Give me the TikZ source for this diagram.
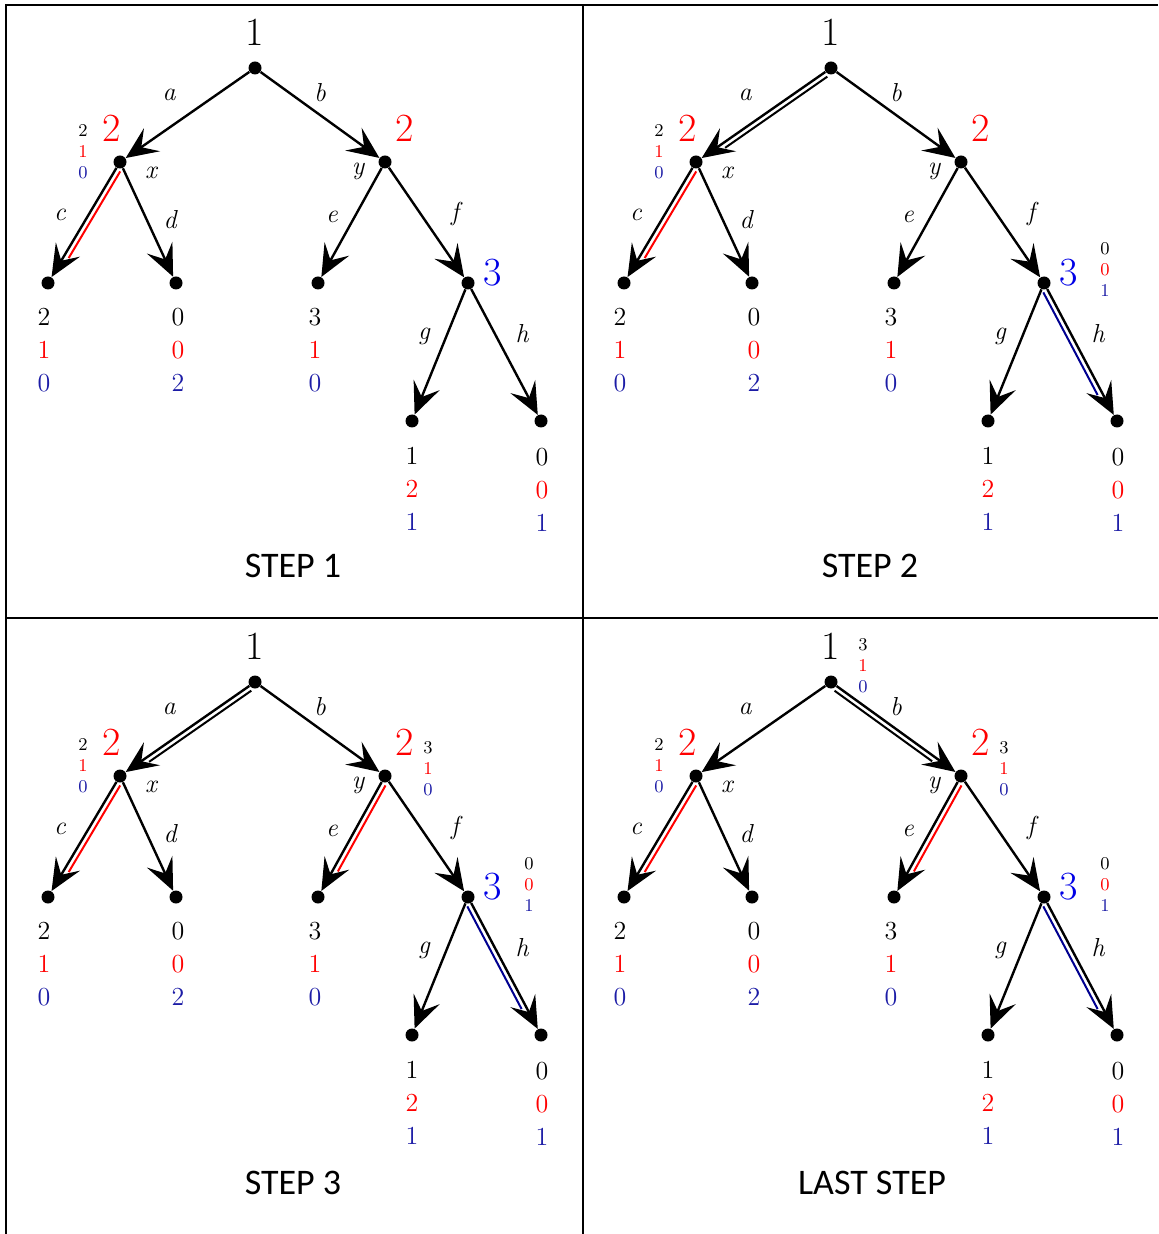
\documentclass[tikz,border=0pt]{standalone}
\usepackage{fontspec}
\newfontfamily\stepfont{Carlito}
\usetikzlibrary{arrows.meta,calc}
\definecolor{pred}{HTML}{FF0000}
\definecolor{pblue}{HTML}{0000E6}
\definecolor{pnavy}{HTML}{1C1CA6}
\definecolor{tnavy}{HTML}{000090}
\tikzset{
  vertex/.style={circle,fill=black,inner sep=0pt,minimum size=6.5pt},
  move/.style={-{Stealth[length=16pt,width=14pt,inset=6.5pt]},line width=1.2pt},
  trail/.style={line width=1pt,shorten <=4pt,shorten >=16pt},
  frame/.style={line width=1.1pt},
  elab/.style={font=\fontsize{13}{14}\selectfont\itshape,inner sep=0pt},
  plab/.style={font=\fontsize{20}{20}\selectfont,inner sep=0pt},
  vstack/.style={font=\fontsize{9}{10.5}\selectfont,align=center,inner sep=0pt},
  payoff/.style={font=\fontsize{13}{16.5}\selectfont,align=center,inner sep=0pt},
  steptext/.style={font=\stepfont\fontsize{18}{20}\selectfont,inner sep=0pt}
}
\newcommand{\payv}[3]{#1\\\textcolor{pred}{#2}\\\textcolor{pnavy}{#3}}
\newcommand{\trailline}[4]{\draw[trail,#3] ($(#1)!2.5pt!#4:(#2)$) -- ($(#2)!-2.5pt!#4:(#1)$);}
\newcommand{\gametree}{%
  \node[vertex] (r) at (255,68) {};
  \node[vertex] (x) at (120,162) {};
  \node[vertex] (y) at (385,162) {};
  \node[vertex] (c) at (48,283) {};
  \node[vertex] (d) at (176,283) {};
  \node[vertex] (e) at (318,283) {};
  \node[vertex] (f) at (468,283) {};
  \node[vertex] (g) at (412,421) {};
  \node[vertex] (h) at (541,421) {};
  \draw[move] (r) -- (x);
  \draw[move] (r) -- (y);
  \draw[move] (x) -- (c);
  \draw[move] (x) -- (d);
  \draw[move] (y) -- (e);
  \draw[move] (y) -- (f);
  \draw[move] (f) -- (g);
  \draw[move] (f) -- (h);
  \node[plab] (lr) at (255,32) {1};
  \node[plab,pred] (lx) at (112,128) {2};
  \node[plab,pred] (ly) at (405,128) {2};
  \node[plab,pblue] (lf) at (493,273) {3};
  \node[elab] (nx) at (151,173) {x};
  \node[elab] (ny) at (358,171) {y};
  \node[elab] (ea) at (169,95) {a};
  \node[elab] (eb) at (320,93) {b};
  \node[elab] (ec) at (60,215) {c};
  \node[elab] (ed) at (170,220) {d};
  \node[elab] (ee) at (332,217) {e};
  \node[elab] (ef) at (455,214) {f};
  \node[elab] (eg) at (424,336) {g};
  \node[elab] (eh) at (522,334) {h};
  \node[payoff] (pc) at (44,350) {\payv{2}{1}{0}};
  \node[payoff] (pd) at (178,350) {\payv{0}{0}{2}};
  \node[payoff] (pe) at (315,350) {\payv{3}{1}{0}};
  \node[payoff] (pg) at (412,489) {\payv{1}{2}{1}};
  \node[payoff] (ph) at (542,490) {\payv{0}{0}{1}};
}

\begin{document}
\begin{tikzpicture}[x=0.5pt,y=-0.5pt]
\useasboundingbox (0,0) rectangle (1158,1234);
\draw[frame] (6,1234) -- (6,5) -- (1158,5);
\draw[frame] (583,5) -- (583,1234);
\draw[frame] (6,618) -- (1158,618);

\begin{scope}[name prefix=s1-]
  \gametree
  \trailline{x}{c}{pred}{90}
  \node[vstack] (sx) at (83,152) {\payv{2}{1}{0}};
  \node[steptext] (title) at (293,566) {STEP 1};
\end{scope}

\begin{scope}[shift={(576,0)},name prefix=s2-]
  \gametree
  \trailline{r}{x}{black}{90}
  \trailline{x}{c}{pred}{90}
  \trailline{f}{h}{tnavy}{-90}
  \node[vstack] (sx) at (83,152) {\payv{2}{1}{0}};
  \node[vstack] (sf) at (529,270) {\payv{0}{0}{1}};
  \node[steptext] (title) at (294,566) {STEP 2};
\end{scope}

\begin{scope}[shift={(0,614)},name prefix=s3-]
  \gametree
  \trailline{r}{x}{black}{90}
  \trailline{x}{c}{pred}{90}
  \trailline{y}{e}{pred}{90}
  \trailline{f}{h}{tnavy}{-90}
  \node[vstack] (sx) at (83,152) {\payv{2}{1}{0}};
  \node[vstack] (sy) at (428,155) {\payv{3}{1}{0}};
  \node[vstack] (sf) at (529,270) {\payv{0}{0}{1}};
  \node[steptext] (title) at (293,569) {STEP 3};
\end{scope}

\begin{scope}[shift={(576,614)},name prefix=s4-]
  \gametree
  \trailline{r}{y}{black}{-90}
  \trailline{x}{c}{pred}{90}
  \trailline{y}{e}{pred}{90}
  \trailline{f}{h}{tnavy}{-90}
  \node[vstack] (sx) at (83,152) {\payv{2}{1}{0}};
  \node[vstack] (sy) at (428,155) {\payv{3}{1}{0}};
  \node[vstack] (sf) at (529,270) {\payv{0}{0}{1}};
  \node[vstack] (sr) at (287,52) {\payv{3}{1}{0}};
  \node[steptext] (title) at (296,569) {LAST STEP};
\end{scope}
\end{tikzpicture}
\end{document}
